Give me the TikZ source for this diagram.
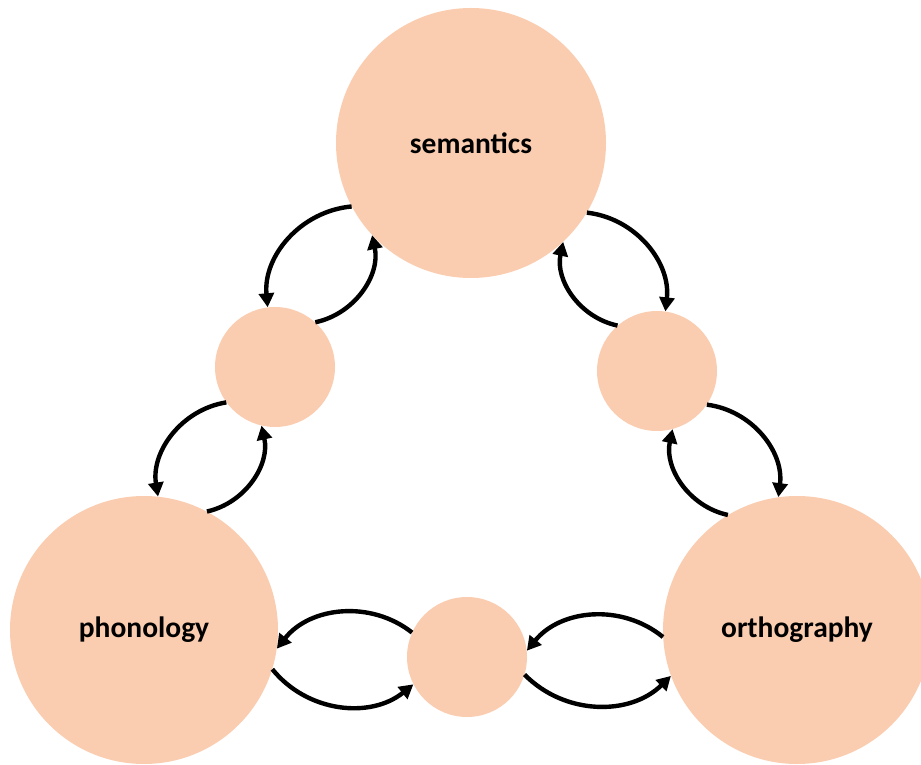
\documentclass[tikz,border=0pt]{standalone}
\usepackage{fontspec}
\setmainfont{Carlito}
\usetikzlibrary{arrows.meta}
\definecolor{peach}{HTML}{FBCDB0}
\tikzset{
  bigdisc/.style={circle, fill=peach, minimum size=#1, inner sep=0pt,
    font=\bfseries\fontsize{29.5}{32}\selectfont},
  smalldisc/.style={circle, fill=peach, minimum size=120pt, inner sep=0pt},
  link/.style={line width=4.4pt, -{Triangle[length=14pt,width=15pt]}, bend right=45},
  linkl/.style={line width=4.4pt, -{Triangle[length=14pt,width=15pt]}, bend left=45}
}
\begin{document}
\begin{tikzpicture}[x=1pt,y=1pt]
\useasboundingbox (0,0) rectangle (921,764);
\clip (0,0) rectangle (921,764);
% three main concepts
\node[bigdisc=270pt] (sem)  at (471,621) {semantics};
\node[bigdisc=268pt] (phon) at (144,134) {phonology};
\node[bigdisc=268pt] (orth) at (797,134) {orthography};
% intermediate units
\node[smalldisc] (sl) at (275,397) {};
\node[smalldisc] (sr) at (657,393) {};
\node[smalldisc] (sb) at (467,107) {};
% semantics <-> left unit
\draw[link] (sem.208) to (sl.97.6);
\draw[link] (sl.48) to (sem.223);
% semantics <-> right unit
\draw[linkl] (sem.-31) to (sr.82);
\draw[linkl] (sr.131.6) to (sem.-47.4);
% left unit <-> phonology
\draw[link] (sl.216) to (phon.84.5);
\draw[link] (phon.62.7) to (sl.257.8);
% right unit <-> orthography
\draw[linkl] (sr.-34) to (orth.98.6);
\draw[linkl] (orth.121) to (sr.-75);
% bottom unit <-> phonology
\draw[link] (sb.156) to (phon.-8.6);
\draw[link] (phon.-17.4) to (sb.207);
% bottom unit <-> orthography
\draw[link] (orth.183) to (sb.6.7);
\draw[link] (sb.-17) to (orth.200);
\end{tikzpicture}
\end{document}
